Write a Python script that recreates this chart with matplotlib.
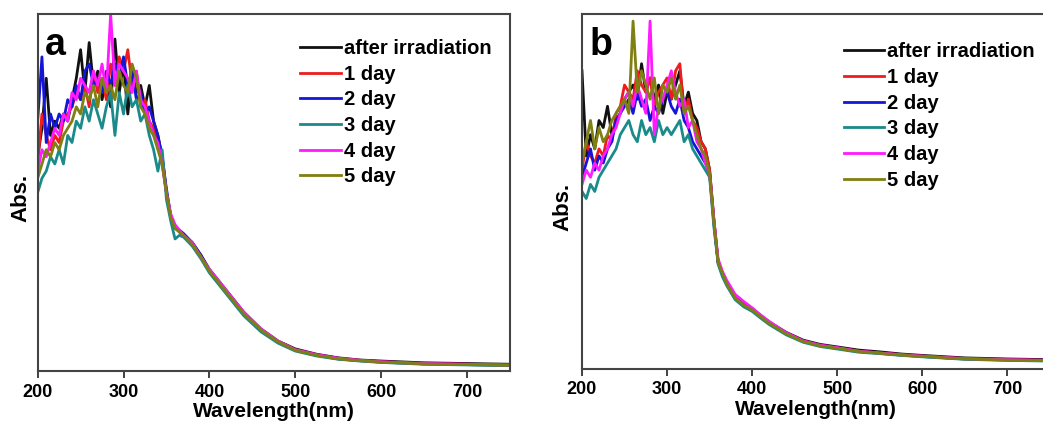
import matplotlib
matplotlib.use("Agg")
import matplotlib.pyplot as plt

plt.rcParams['font.family'] = ['Liberation Sans', 'DejaVu Sans']
plt.rcParams['font.weight'] = 'bold'

# ---------------- data (arbitrary absorbance units) -------------
wl = [200, 205, 210, 215, 220, 225, 230, 235, 240, 245, 250, 255, 260, 265, 270, 275,
      280, 285, 290, 295, 300, 305, 310, 315, 320, 325, 330, 335, 340, 345, 350,
      355, 360, 365, 370, 380, 390, 400, 410, 420, 440, 460, 480, 500, 525, 550,
      575, 600, 650, 700, 750]

labels = ["after irradiation", "1 day", "2 day", "3 day", "4 day", "5 day"]
colors = ["#111111", "#ee1c1c", "#1515d8", "#1b8a8a", "#ff1aff", "#7f7f12"]

# panel a
a_after = [60, 68, 82, 66, 70, 68, 72, 70, 76, 82, 90, 78, 92, 80, 84, 76, 82, 74, 93, 78, 86, 72,
           84, 78, 80, 74, 80, 70, 66, 60, 50,
           43, 40.5, 39, 38, 36, 32.5, 28.5, 25.5, 22.5, 16.5, 11.8, 8.4, 6.2, 4.7, 3.7, 3.1, 2.8, 2.3, 2.1, 1.9]
a_day1 = [58, 72, 66, 62, 66, 64, 70, 72, 74, 78, 76, 80, 74, 84, 78, 82, 76, 86, 80, 88, 84, 90,
          80, 84, 74, 76, 70, 68, 64, 58, 50,
          43, 40, 39, 38, 35.5, 32, 28, 25, 22, 16, 11.5, 8.2, 5.9, 4.5, 3.5, 3.0, 2.6, 2.1, 1.9, 1.7]
a_day2 = [70, 88, 64, 72, 68, 72, 70, 76, 74, 80, 76, 84, 86, 80, 82, 78, 84, 80, 86, 82, 88, 80,
          84, 76, 78, 72, 74, 70, 66, 60, 51,
          43.5, 40, 39.5, 38.5, 36, 32.5, 28, 25, 22, 16, 11.4, 8.1, 5.8, 4.4, 3.4, 2.9, 2.5, 2.0, 1.8, 1.6]
a_day3 = [50, 54, 56, 60, 58, 62, 58, 66, 64, 70, 68, 74, 70, 76, 72, 68, 74, 78, 66, 78, 72, 80,
          74, 76, 70, 72, 66, 62, 56, 62, 48,
          42, 37, 38, 37.5, 35, 31.5, 27.5, 24.5, 21.5, 15.5, 11.0, 7.8, 5.6, 4.2, 3.3, 2.8, 2.4, 1.9, 1.7, 1.5]
a_day4 = [56, 62, 60, 64, 68, 66, 72, 70, 78, 76, 82, 80, 78, 84, 80, 86, 78, 100, 80, 86, 84, 82,
          78, 84, 76, 74, 70, 66, 64, 58, 50,
          44, 41, 39.5, 38, 36, 32, 28.5, 25.5, 22.5, 16.5, 11.8, 8.4, 6.0, 4.6, 3.6, 3.0, 2.6, 2.1, 1.9, 1.7]
a_day5 = [54, 58, 62, 60, 64, 62, 66, 68, 70, 74, 72, 78, 76, 80, 74, 82, 78, 80, 76, 84, 80, 78,
          86, 82, 74, 72, 68, 66, 62, 58, 50,
          43, 40, 39, 38, 35.5, 32, 28, 25, 22, 16, 11.5, 8.2, 5.8, 4.4, 3.4, 2.9, 2.5, 2.0, 1.8, 1.6]

# panel b
b_after = [84, 60, 66, 62, 70, 68, 74, 66, 70, 72, 76, 78, 80, 76, 86, 78, 82, 76, 80, 72, 78, 76,
           80, 84, 74, 78, 72, 70, 64, 62, 56,
           42, 30, 27, 24.5, 20.5, 18.5, 17, 15, 13.2, 10.3, 8.1, 6.9, 6.2, 5.3, 4.8, 4.2, 3.8, 3.1, 2.8, 2.6]
b_day1 = [56, 64, 60, 58, 62, 60, 66, 64, 72, 74, 80, 78, 76, 84, 80, 78, 82, 74, 78, 80, 82, 76,
          84, 86, 72, 76, 70, 68, 64, 62, 56,
          42, 30, 27, 24, 20, 18, 16.7, 14.8, 13, 10, 7.8, 6.6, 5.9, 5.0, 4.5, 4.0, 3.6, 2.9, 2.6, 2.4]
b_day2 = [54, 58, 62, 56, 60, 58, 62, 64, 70, 72, 74, 76, 72, 78, 74, 76, 70, 74, 72, 76, 78, 74,
          72, 76, 70, 68, 64, 62, 60, 58, 55,
          41, 30, 26.5, 24, 20, 18, 16.5, 14.6, 12.8, 9.9, 7.7, 6.5, 5.8, 4.9, 4.4, 3.9, 3.5, 2.8, 2.5, 2.3]
b_day3 = [50, 48, 52, 50, 54, 56, 58, 60, 62, 66, 68, 70, 66, 64, 70, 66, 68, 64, 70, 66, 68, 66,
          68, 70, 64, 66, 62, 60, 58, 56, 54,
          40, 29.5, 26, 23.5, 19.5, 17.5, 16.2, 14.3, 12.5, 9.6, 7.5, 6.3, 5.6, 4.7, 4.3, 3.8, 3.4, 2.7, 2.4, 2.2]
b_day4 = [52, 56, 54, 58, 56, 60, 62, 66, 68, 72, 76, 78, 74, 80, 76, 72, 98, 66, 74, 76, 80, 84,
          78, 74, 76, 68, 70, 64, 62, 58, 55,
          42, 31, 27.5, 25, 21, 19, 17.2, 15.2, 13.4, 10.2, 7.9, 6.7, 6.0, 5.0, 4.5, 4.0, 3.6, 2.9, 2.6, 2.4]
b_day5 = [58, 64, 70, 62, 68, 64, 66, 70, 72, 74, 76, 72, 98, 78, 84, 80, 76, 82, 72, 80, 78, 82,
          76, 80, 72, 74, 70, 66, 62, 60, 55,
          41.5, 30, 27, 24, 20, 18, 16.6, 14.7, 12.9, 9.9, 7.7, 6.5, 5.8, 4.9, 4.4, 3.9, 3.5, 2.8, 2.5, 2.3]

panel_a = [a_after, a_day1, a_day2, a_day3, a_day4, a_day5]
panel_b = [b_after, b_day1, b_day2, b_day3, b_day4, b_day5]

xticks = [200, 300, 400, 500, 600, 700]

# ---------------- figure ----------------
fig = plt.figure(figsize=(10.43, 4.25), dpi=100)
axa = fig.add_axes([0.0361, 0.127, 0.4528, 0.840])
axb = fig.add_axes([0.558, 0.132, 0.4487, 0.835])

def style(ax, xmax, letter, legx, legy, ylab_xy):
    ax.set_xlim(200, xmax)
    ax.set_ylim(0, 100)
    ax.set_yticks([])
    ax.set_xticks(xticks)
    ax.tick_params(axis='x', direction='out', length=5, width=1.3, color='#333333',
                   labelsize=13, pad=4)
    for lab in ax.get_xticklabels():
        lab.set_fontweight('bold')
    for s in ax.spines.values():
        s.set_color('#444444')
        s.set_linewidth(1.5)
    ax.set_xlabel("Wavelength(nm)", fontsize=15, fontweight='bold', labelpad=1)
    ax.set_ylabel("Abs.", fontsize=16, fontweight='bold')
    ax.yaxis.set_label_coords(*ylab_xy)
    ax.text(0.016, 0.885, letter, transform=ax.transAxes, fontsize=27,
            fontweight='bold', va='baseline', ha='left')
    ax.legend(loc='upper left', bbox_to_anchor=(legx, legy), frameon=False,
              handlelength=2.0, handletextpad=0.15,
              labelspacing=0.33, borderaxespad=0, borderpad=0,
              prop={'weight': 'bold', 'size': 14.5})

for data, col, lab in zip(panel_a, colors, labels):
    axa.plot(wl, data, color=col, lw=2.0, label=lab)
for data, col, lab in zip(panel_b, colors, labels):
    axb.plot(wl, data, color=col, lw=2.0, label=lab)

style(axa, 750, "a", 0.556, 0.93, (-0.013, 0.485))
style(axb, 750, "b", 0.56, 0.92, (-0.019, 0.456))

fig.savefig("out.png", dpi=100)
